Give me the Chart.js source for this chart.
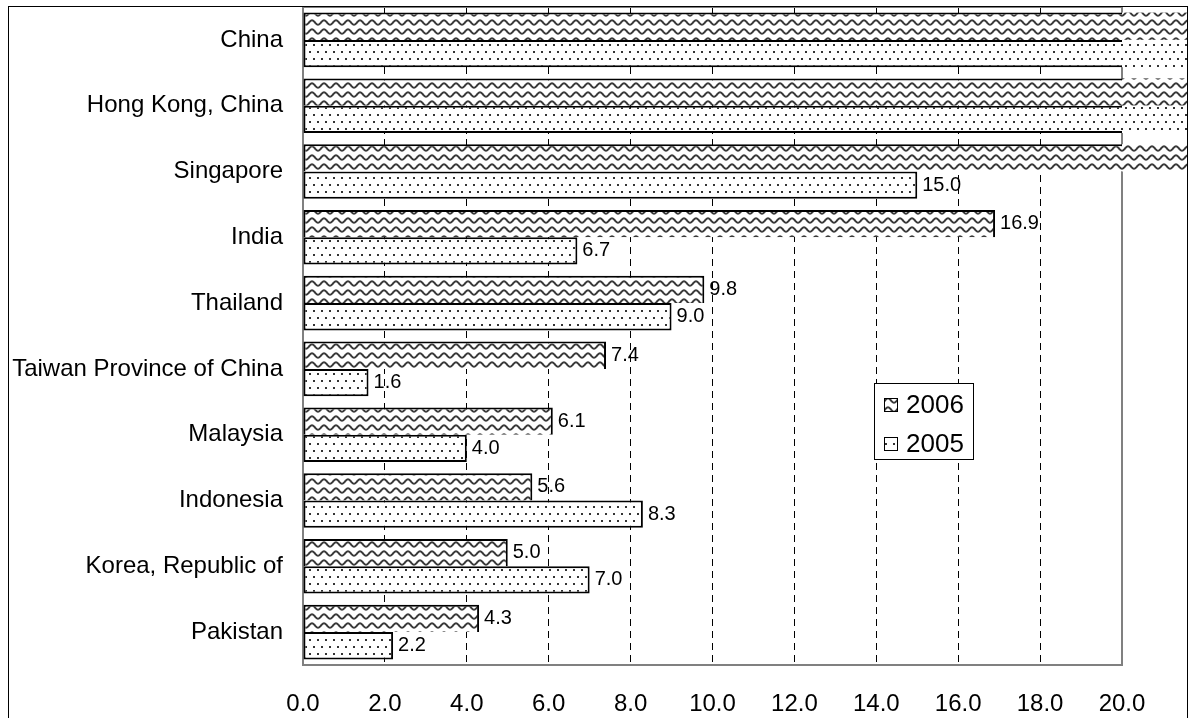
<!DOCTYPE html>
<html>
<head>
<meta charset="utf-8">
<script src="https://cdn.jsdelivr.net/npm/chart.js@4.4.1/dist/chart.umd.min.js"></script>
<style>
html,body{margin:0;padding:0;background:#fff;}
canvas{display:block;}
</style>
</head>
<body>
<canvas id="c" width="1190" height="718"></canvas>
<script>
const categories = ['China','Hong Kong, China','Singapore','India','Thailand','Taiwan Province of China','Malaysia','Indonesia','Korea, Republic of','Pakistan'];
const values2006 = [69.5, 42.9, 24.2, 16.9, 9.8, 7.4, 6.1, 5.6, 5.0, 4.3];
const values2005 = [72.4, 33.6, 15.0, 6.7, 9.0, 1.6, 4.0, 8.3, 7.0, 2.2];
const seriesNames = ['2006', '2005'];
const axisMin = 0, axisMax = 20, axisStep = 2;

const FONT = "'Liberation Sans', Arial, sans-serif";
const canvas = document.getElementById('c');
const ctx0 = canvas.getContext('2d');

function makeWave() {
  const c = document.createElement('canvas');
  c.width = 12; c.height = 9;
  const g = c.getContext('2d');
  g.fillStyle = '#fff'; g.fillRect(0, 0, 12, 9);
  g.strokeStyle = '#3a3a3a'; g.lineWidth = 2;
  g.beginPath();
  for (let x = -2; x <= 14; x += 0.5) {
    const y = 4.5 - 2.2 * Math.cos(2 * Math.PI * x / 12);
    if (x === -2) g.moveTo(x, y); else g.lineTo(x, y);
  }
  g.stroke();
  return ctx0.createPattern(c, 'repeat');
}
function makeDots() {
  const c = document.createElement('canvas');
  c.width = 8; c.height = 14;
  const g = c.getContext('2d');
  g.fillStyle = '#fff'; g.fillRect(0, 0, 8, 14);
  g.fillStyle = '#333';
  g.fillRect(1, 2, 2, 2);
  g.fillRect(5, 9, 2, 2);
  return ctx0.createPattern(c, 'repeat');
}
const wave = makeWave();
const dots = makeDots();
const patterns = [wave, dots];

const framePlugin = {
  id: 'frame',
  beforeDatasetsDraw(chart) {
    const {ctx, chartArea: a} = chart;
    ctx.save();
    ctx.strokeStyle = '#808080';
    ctx.lineWidth = 2;
    ctx.strokeRect(a.left, a.top, a.right - a.left, a.bottom - a.top);
    ctx.restore();
  },
  afterDatasetsDraw(chart) {
    const {ctx, chartArea: a} = chart;
    const xs = chart.scales.x;
    ctx.save();
    chart.data.datasets.forEach((ds, di) => {
      const meta = chart.getDatasetMeta(di);
      meta.data.forEach((bar, i) => {
        if (ds.data[i] > axisMax) {
          const h = bar.height;
          ctx.fillStyle = patterns[di];
          ctx.fillRect(a.right, bar.y - h / 2, 1188 - a.right, h);
        }
      });
    });
    ctx.fillStyle = '#000';
    ctx.font = '20px ' + FONT;
    ctx.textAlign = 'left';
    ctx.textBaseline = 'middle';
    chart.data.datasets.forEach((ds, di) => {
      const meta = chart.getDatasetMeta(di);
      meta.data.forEach((bar, i) => {
        const v = ds.data[i];
        if (v <= axisMax) {
          ctx.fillText(v.toFixed(1), xs.getPixelForValue(v) + 5, bar.y);
        }
      });
    });
    ctx.restore();
  },
  afterDraw(chart) {
    const {ctx} = chart;
    ctx.save();
    ctx.strokeStyle = '#000';
    ctx.lineWidth = 1;
    ctx.strokeRect(8.5, 6.5, 1179, 800);
    const lx = 874, ly = 383, lw = 99, lh = 76;
    ctx.fillStyle = '#fff';
    ctx.fillRect(lx, ly, lw, lh);
    ctx.strokeStyle = '#000';
    ctx.strokeRect(lx + 0.5, ly + 0.5, lw, lh);
    const rows = [405, 444];
    seriesNames.forEach((name, i) => {
      const sy = rows[i] - 7;
      ctx.fillStyle = patterns[i];
      ctx.fillRect(884, sy, 14, 14);
      ctx.strokeStyle = '#000';
      ctx.lineWidth = 1;
      ctx.strokeRect(884.5, sy + 0.5, 13, 13);
      ctx.fillStyle = '#000';
      ctx.font = '26px ' + FONT;
      ctx.textAlign = 'left';
      ctx.textBaseline = 'middle';
      ctx.fillText(name, 906, rows[i] + 1);
    });
    ctx.restore();
  }
};

new Chart(canvas, {
  type: 'bar',
  data: {
    labels: categories,
    datasets: [
      {
        label: seriesNames[0],
        data: values2006,
        backgroundColor: wave,
        borderColor: '#000',
        borderWidth: 2,
        borderSkipped: 'bottom',
        clip: {left: 5, top: 5, right: 0, bottom: 5}
      },
      {
        label: seriesNames[1],
        data: values2005,
        backgroundColor: dots,
        borderColor: '#000',
        borderWidth: 2,
        borderSkipped: false,
        clip: {left: 5, top: 5, right: 0, bottom: 5}
      }
    ]
  },
  options: {
    indexAxis: 'y',
    responsive: false,
    devicePixelRatio: 1,
    animation: false,
    categoryPercentage: 0.83,
    barPercentage: 1.0,
    layout: {padding: {left: 12, top: 7, right: 68, bottom: 0}},
    plugins: {legend: {display: false}, tooltip: {enabled: false}},
    scales: {
      x: {
        min: axisMin,
        max: axisMax,
        ticks: {
          stepSize: axisStep,
          color: '#000',
          font: {family: FONT, size: 24},
          padding: 25,
          callback: (v) => Number(v).toFixed(1)
        },
        grid: {
          drawTicks: false,
          color: (c) => (c.tick && (c.tick.value === axisMin || c.tick.value === axisMax)) ? 'rgba(0,0,0,0)' : '#000',
          lineWidth: 1
        },
        border: {display: false, dash: [7, 5]},
        afterFit: (s) => { s.height = 53; s.paddingLeft = 0; s.paddingRight = 0; }
      },
      y: {
        ticks: {
          color: '#000',
          font: {family: FONT, size: 24},
          padding: 20
        },
        grid: {display: false, drawTicks: false},
        border: {display: false},
        afterFit: (s) => { s.width = 291; s.paddingTop = 0; s.paddingBottom = 0; }
      }
    }
  },
  plugins: [framePlugin]
});
</script>
</body>
</html>
